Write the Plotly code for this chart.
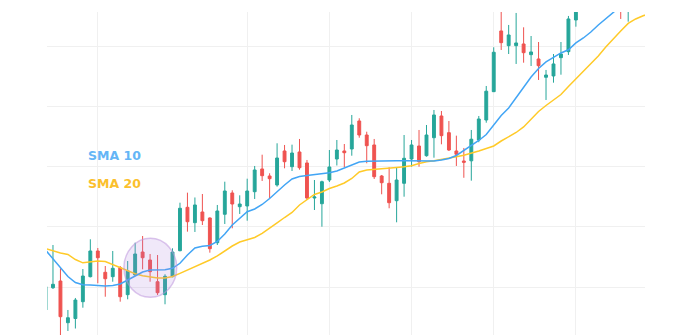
import plotly.graph_objects as go

# candle index (trading sessions)
idx = list(range(-1, 81))

opens = [96.17, 99.88, 101.0, 94.05, 94.75, 97.55, 101.72, 106.0, 102.45, 101.72,
         103.22, 98.72, 102.0, 105.83, 104.5, 100.88, 98.72, 101.72, 106.05, 113.28,
         110.72, 112.5, 111.5, 107.38, 112.12, 115.67, 113.38, 113.5, 115.88, 119.67,
         118.5, 117.0, 122.67, 120.05, 122.5, 120.67, 114.83, 113.88, 117.83, 121.33,
         122.67, 123.0, 127.67, 125.33, 123.67, 118.5, 117.28, 114.38, 117.28, 121.33,
         123.5, 121.88, 124.88, 128.5, 125.72, 122.67, 121.0, 121.03, 124.5, 127.83,
         132.55, 142.67, 140.22, 140.22, 140.5, 138.72, 138.0, 134.95, 135.17, 138.22,
         139.22, 144.5, 147.5, 149.5, 148.6, 150.6, 150.0, 150.0, 146.5, 149.5,
         150.8, 151.6]
highs = [100.33, 107.0, 103.12, 96.17, 98.17, 103.0, 107.95, 106.5, 103.5, 106.0,
         103.5, 104.33, 107.38, 108.5, 105.5, 105.33, 102.12, 106.45, 114.05, 115.72,
         114.92, 115.5, 111.6, 113.67, 117.55, 116.12, 115.28, 118.05, 120.17, 122.05,
         118.95, 123.95, 123.67, 123.72, 124.67, 121.17, 117.83, 117.72, 122.83, 124.5,
         123.83, 128.67, 128.12, 125.88, 124.67, 118.67, 119.95, 119.95, 125.33, 124.5,
         126.17, 127.0, 129.5, 129.33, 127.67, 125.22, 123.17, 126.17, 128.5, 133.5,
         139.95, 146.5, 143.67, 145.67, 143.28, 141.83, 140.83, 136.17, 138.83, 140.83,
         145.17, 148.2, 150.5, 151.0, 151.6, 152.0, 152.4, 151.5, 150.5, 152.0,
         152.8, 153.2]
lows = [95.83, 99.67, 91.5, 92.67, 93.08, 96.55, 101.6, 100.62, 98.38, 100.88,
        97.55, 97.95, 101.9, 102.95, 100.88, 98.67, 97.12, 101.62, 105.95, 109.22,
        109.17, 110.33, 105.72, 107.0, 110.5, 109.78, 112.17, 111.05, 114.67, 117.67,
        114.78, 116.72, 119.78, 119.33, 119.55, 114.5, 112.83, 110.05, 117.5, 120.25,
        120.0, 121.88, 124.88, 120.62, 118.0, 115.45, 113.12, 110.78, 115.05, 120.05,
        120.05, 121.72, 121.55, 123.78, 122.67, 120.17, 118.2, 117.72, 124.13, 127.38,
        132.5, 139.5, 138.83, 137.17, 137.38, 136.83, 134.5, 131.17, 134.05, 135.38,
        138.67, 143.38, 146.8, 147.2, 147.8, 148.8, 149.0, 144.67, 144.22, 148.0,
        149.5, 150.4]
closes = [100.05, 100.45, 95.05, 94.88, 97.83, 101.83, 106.0, 104.88, 101.38, 103.12,
          98.38, 102.67, 105.5, 104.88, 102.55, 99.05, 101.78, 105.83, 113.12, 110.88,
          113.67, 111.05, 106.38, 112.67, 116.0, 113.83, 113.83, 116.0, 119.5, 118.55,
          118.05, 121.5, 120.88, 122.33, 119.88, 114.83, 115.0, 117.55, 120.0, 122.83,
          122.38, 127.0, 125.33, 123.55, 118.38, 117.38, 114.05, 117.83, 121.45, 123.67,
          120.88, 125.33, 128.67, 125.22, 122.83, 122.12, 120.78, 124.63, 128.0, 132.63,
          139.12, 140.72, 142.0, 140.67, 139.05, 139.17, 136.88, 135.33, 137.17, 138.83,
          144.67, 147.5, 149.5, 148.6, 150.6, 150.0, 151.4, 147.0, 149.5, 150.8,
          151.6, 152.2]

sma10 = [106.17, 104.75, 103.33, 101.75, 100.75, 100.38, 100.33, 100.28, 100.17, 100.25,
         100.5, 101.17, 101.87, 102.5, 102.83, 102.9, 102.87, 103.12, 103.95, 105.33,
         106.5, 106.78, 106.92, 107.58, 108.83, 110.33, 111.5, 112.55, 113.0, 113.75,
         114.75, 115.95, 117.0, 118.0, 118.42, 118.58, 118.72, 118.83, 119.05, 119.33,
         119.83, 120.25, 120.83, 120.95, 121.0, 121.05, 121.05, 121.05, 121.05, 121.05,
         121.05, 120.95, 121.0, 121.17, 121.42, 121.92, 122.75, 123.58, 124.42, 125.42,
         127.0, 128.58, 129.83, 131.5, 133.25, 135.0, 136.42, 137.5, 138.25, 139.0,
         139.53, 140.67, 141.5, 142.5, 143.67, 144.75, 145.75, 146.83, 147.83, 148.67,
         149.5, 150.33]
sma20 = [106.42, 106.0, 105.67, 105.42, 104.58, 104.03, 104.17, 104.33, 104.25, 103.75,
         103.17, 102.62, 102.2, 101.87, 101.63, 101.5, 101.5, 101.75, 102.28, 102.83,
         103.33, 103.83, 104.5, 105.17, 106.0, 106.83, 107.5, 107.83, 108.25, 108.92,
         109.75, 110.67, 111.58, 112.42, 113.67, 114.5, 115.42, 115.83, 116.42, 116.83,
         117.33, 118.08, 119.17, 119.5, 119.58, 119.67, 119.78, 119.92, 120.05, 120.22,
         120.58, 120.87, 121.03, 121.22, 121.47, 121.72, 121.95, 122.25, 122.67, 123.08,
         123.5, 124.33, 125.08, 125.75, 126.67, 128.0, 129.25, 130.25, 131.17, 132.08,
         133.42, 134.67, 135.83, 137.17, 138.5, 140.0, 141.42, 142.67, 143.92, 144.67,
         145.2, 145.67]

x_ticks = [6, 26, 37, 48, 59, 70]
y_ticks = [100, 110, 120, 130, 140]
labels = ["SMA 10", "SMA 20"]

fig = go.Figure()
fig.add_trace(go.Candlestick(
    x=idx, open=opens, high=highs, low=lows, close=closes,
    increasing=dict(line=dict(color="#26A69A", width=1), fillcolor="#26A69A"),
    decreasing=dict(line=dict(color="#EF5350", width=1), fillcolor="#EF5350"),
    showlegend=False, hoverinfo="skip"))
fig.add_trace(go.Scatter(x=idx, y=sma20, mode="lines",
                         line=dict(color="#FFCA28", width=1.5), showlegend=False))
fig.add_trace(go.Scatter(x=idx, y=sma10, mode="lines",
                         line=dict(color="#42A5F5", width=1.5), showlegend=False))

fig.add_shape(type="circle", xref="x", yref="y", x0=9.5, x1=16.56, y0=98.28, y1=108.12,
              fillcolor="rgba(170,130,220,0.18)", line=dict(color="rgba(190,150,220,0.55)", width=1.5),
              layer="above")

fig.add_annotation(text="<b>" + labels[0] + "</b>", xref="paper", yref="paper",
                   x=0.0652, y=0.557, xanchor="left", yanchor="middle", showarrow=False,
                   font=dict(family="DejaVu Sans", size=12.5, color="#64B5F6"))
fig.add_annotation(text="<b>" + labels[1] + "</b>", xref="paper", yref="paper",
                   x=0.0652, y=0.469, xanchor="left", yanchor="middle", showarrow=False,
                   font=dict(family="DejaVu Sans", size=12.5, color="#FBC02D"))

fig.update_layout(
    width=685, height=335,
    margin=dict(l=47, r=40, t=12, b=0),
    paper_bgcolor="white", plot_bgcolor="white",
    boxgap=0.45,
    xaxis=dict(range=[-0.8, 79.25], tickvals=x_ticks, showticklabels=False,
               showgrid=True, gridcolor="#F0F0F0", gridwidth=1, zeroline=False,
               rangeslider=dict(visible=False), fixedrange=True),
    yaxis=dict(range=[92.0, 145.83], tickvals=y_ticks, showticklabels=False,
               showgrid=True, gridcolor="#F0F0F0", gridwidth=1, zeroline=False),
    hovermode=False,
)

fig.write_html("out.html")
